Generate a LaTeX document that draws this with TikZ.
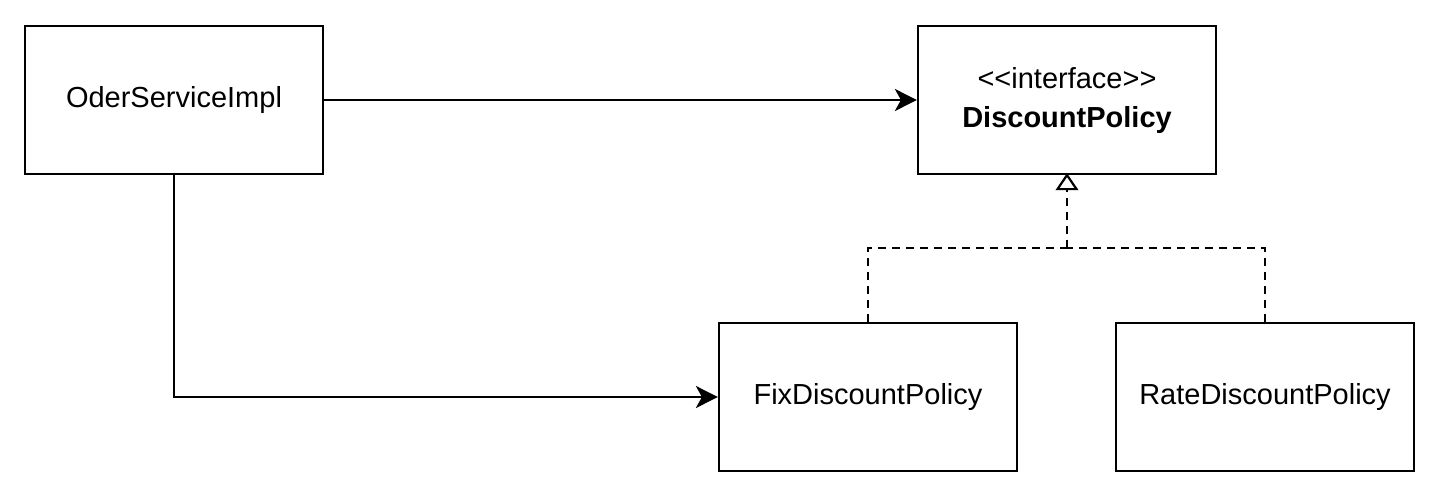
\documentclass[tikz,border=0pt]{standalone}
\usepackage{fontspec}
\setmainfont[Ligatures=NoCommon]{Liberation Sans}
\usetikzlibrary{arrows.meta}
\begin{document}
\begin{tikzpicture}[x=1pt,y=-1pt,
  cls/.style={draw,line width=2.2pt,minimum width=298pt,minimum height=148pt,inner sep=0pt,
    font=\fontsize{29}{39}\selectfont,align=center},
  conn/.style={line width=2.2pt},
  impl/.style={line width=2.2pt,dash pattern=on 8pt off 6pt},
  tri/.style={line width=2.2pt,line join=miter,fill=white},
  every node/.style={anchor=center}]
\useasboundingbox (0,0) rectangle (1440,498);
\node[cls] (osi) at (174,100) {OderServiceImpl};
\node[cls] (dp) at (1067,100) {{<}{<}interface{>}{>}\\\textbf{DiscountPolicy}};
\node[cls] (fix) at (868,397) {FixDiscountPolicy};
\node[cls] (rate) at (1265,397) {RateDiscountPolicy};
\coordinate (j) at (1067,248);
\coordinate (tb) at (1067,188);
\draw[conn,-{Stealth[length=22pt,width=22pt,inset=6pt]}] (osi.east) -- (dp.west);
\draw[conn,-{Stealth[length=22pt,width=22pt,inset=6pt]}] (osi.south) |- (fix.west);
\draw[impl] (fix.north) |- (j);
\draw[impl] (rate.north) |- (j);
\draw[impl] (j) -- (tb);
\draw[tri] (dp.south) -- ++(-9.5,14) -- ++(19,0) -- cycle;
\end{tikzpicture}
\end{document}
